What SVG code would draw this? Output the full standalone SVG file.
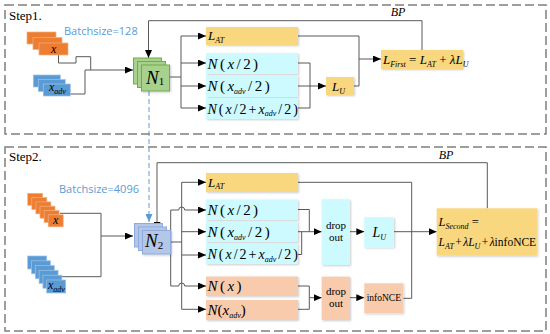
<svg xmlns="http://www.w3.org/2000/svg" width="550" height="334" viewBox="0 0 550 334">
<defs>
<style>
.frame{fill:none;stroke:#7f7f7f;stroke-width:1.5;stroke-dasharray:9 4}
.ln{fill:none;stroke:#595959;stroke-width:1}
.ar{marker-end:url(#ah)}
.yel{fill:#f9d77e}
.cy{fill:#ccfaff}
.or{fill:#f8cbad}
.inO{fill:#ed7d31;stroke:#f4b183;stroke-width:0.7}
.inB{fill:#5b9bd5;stroke:#9dc3e6;stroke-width:0.7}
.g{fill:#a9d18e;stroke:#70ad47;stroke-width:1}
.b2{fill:#b4c7e7;stroke:#8faadc;stroke-width:1}
.sh{filter:url(#ds)}
.m{font-family:"Liberation Serif","Times New Roman",serif;fill:#000}
.i{font-style:italic}
.sub{font-size:8px;font-style:italic}
.lbl{font-family:"Liberation Serif","Times New Roman",serif;font-size:13px;fill:#000}
.bs{font-family:"Open Sans","Liberation Sans",sans-serif;font-size:11px;fill:#5b9bd5}
.n{font-size:15px;word-spacing:-1.3px}
.nm{font-size:14px;word-spacing:-1.5px}
</style>
<marker id="ah" markerWidth="8" markerHeight="7" refX="8" refY="3.5" orient="auto" markerUnits="userSpaceOnUse"><path d="M0,0 L8,3.5 L0,7 z" fill="#000"/></marker>
<marker id="ahb" markerWidth="8" markerHeight="7" refX="8" refY="3.5" orient="auto" markerUnits="userSpaceOnUse"><path d="M0,0 L8,3.5 L0,7 z" fill="#5b9bd5"/></marker>
<filter id="ds" x="-10%" y="-10%" width="130%" height="140%"><feDropShadow dx="1" dy="1" stdDeviation="0.8" flood-color="#000" flood-opacity="0.2"/></filter>
</defs>
<rect width="550" height="334" fill="#fff"/>

<g id="step1-frame">
<rect class="frame" x="5" y="5" width="541" height="129"/>
<text class="lbl" x="9" y="20">Step1.</text>
<text class="bs" x="64" y="35">Batchsize=128</text>
</g>
<g id="step2-frame">
<rect class="frame" x="5" y="147" width="541" height="184"/>
<text class="lbl" x="9" y="161">Step2.</text>
<text class="bs" x="59" y="193">Batchsize=4096</text>
</g>

<g id="connectors">
<path class="ln" d="M58.5,55 V63 H76 V56.7 H90.7 V70"/>
<path class="ln" d="M70,94 H85 V70"/>
<path class="ln ar" d="M85,70 H133"/>
<path class="ln ar" d="M422,50 V20.7 H148.5 V58"/>
<path class="ln" d="M169,77 H181 M181,36 V108"/>
<path class="ln ar" d="M181,36 H206"/>
<path class="ln ar" d="M181,63 H206"/>
<path class="ln ar" d="M181,86 H206"/>
<path class="ln ar" d="M181,108 H206"/>
<path class="ln" d="M298,63 H310 V108 H298"/>
<path class="ln ar" d="M298,86 H326"/>
<path class="ln" d="M298,36 H359 V86 H354"/>
<path class="ln ar" d="M359,59 H381"/>
<path fill="none" stroke="#5b9bd5" stroke-width="1" stroke-dasharray="5 3" marker-end="url(#ahb)" d="M149,91 V222"/>
<path class="ln" d="M60,213.3 H101 V276.7 H60"/>
<path class="ln ar" d="M101,236 H133"/>
<path class="ln ar" d="M487.3,208.3 V162.7 H157 V230"/>
<path class="ln" d="M170.5,242 H181.7 M170.7,210 V286 M181.7,182.3 V309.3"/>
<path class="ln ar" d="M181.7,182.3 H206"/>
<path class="ln ar" d="M181.7,231.7 H206"/>
<path class="ln ar" d="M181.7,255 H206"/>
<path class="ln ar" d="M181.7,309.3 H206"/>
<path class="ln ar" d="M170.7,210 H178.7 A3,3 0 0 1 184.7,210 H206"/>
<path class="ln ar" d="M170.7,286 H178.7 A3,3 0 0 1 184.7,286 H206"/>
<path class="ln" d="M298,209.5 H309.3 V231.7 M298,254.5 H301.7 V231.7"/>
<path class="ln ar" d="M298,231.7 H321.7"/>
<path class="ln" d="M298,286 H309.3 V309.3 H298"/>
<path class="ln ar" d="M309.3,297.7 H321.7"/>
<path class="ln ar" d="M350,231.7 H364.3"/>
<path class="ln ar" d="M350,297.7 H364.3"/>
<path class="ln" d="M298,182.3 H411.7 V298.3 H403.3"/>
<path class="ln ar" d="M394,231.7 H436.7"/>
</g>

<g id="x1">
<rect class="inO" x="27" y="32" width="29" height="12"/>
<rect class="inO" x="33" y="37.5" width="29" height="12"/>
<rect class="inO" x="39" y="43" width="29" height="12"/>
<text class="m i" x="51" y="53" font-size="12">x</text>
</g>
<g id="xadv1">
<rect class="inB" x="33.3" y="75" width="27" height="12"/>
<rect class="inB" x="38.3" y="79.5" width="27" height="12"/>
<rect class="inB" x="43.3" y="84" width="27" height="12"/>
<text class="m i" x="49" y="91" font-size="12">x<tspan class="sub" dy="2.5">adv</tspan></text>
</g>
<g id="N1">
<rect class="g" x="133.5" y="58" width="28" height="26"/>
<rect class="g" x="137.5" y="61.5" width="28" height="26"/>
<rect class="g sh" x="141.5" y="65" width="28" height="26"/>
<text class="m" x="146" y="84" font-size="19"><tspan class="i">N</tspan><tspan font-size="11" dy="1">1</tspan></text>
</g>
<g id="LAT1">
<rect class="yel sh" x="206" y="27" width="92" height="18"/>
<text class="m i" x="208" y="40" font-size="13">L<tspan class="sub" dy="2.5">AT</tspan></text>
</g>
<g id="Nx1">
<rect class="cy sh" x="206" y="53" width="92" height="21"/>
<text class="m n" x="207.5" y="68.5"><tspan class="i">N</tspan> ( <tspan class="i">x</tspan> / 2 )</text>
</g>
<g id="Nxadv1">
<rect class="cy sh" x="206" y="75" width="92" height="22"/>
<text class="m n" x="207.5" y="91"><tspan class="i">N</tspan> ( <tspan class="i">x</tspan><tspan class="sub" dy="2.5">adv</tspan><tspan dy="-2.5"> / 2 )</tspan></text>
</g>
<g id="Nmix1">
<rect class="cy sh" x="206" y="98" width="92" height="21"/>
<text class="m nm" x="207.5" y="113.5"><tspan class="i">N</tspan> ( <tspan class="i">x</tspan> / 2 + <tspan class="i">x</tspan><tspan class="sub" dy="2.5">adv</tspan><tspan dy="-2.5"> / 2 )</tspan></text>
</g>
<g id="LU1">
<rect class="yel sh" x="326" y="77" width="28" height="18"/>
<text class="m i" x="332" y="91" font-size="13">L<tspan class="sub" dy="2.5">U</tspan></text>
</g>
<g id="LFirst">
<rect class="yel sh" x="381" y="50" width="82" height="19"/>
<text class="m" x="383" y="64" font-size="13"><tspan class="i">L</tspan><tspan class="sub" dy="2.5">First</tspan><tspan dy="-2.5"> = </tspan><tspan class="i">L</tspan><tspan class="sub" dy="2.5">AT</tspan><tspan dy="-2.5"> + </tspan><tspan class="i">λL</tspan><tspan class="sub" dy="2.5">U</tspan></text>
</g>
<text class="m i" x="398" y="16" font-size="12" text-anchor="middle">BP</text>

<g id="x2">
<rect class="inO" x="27.7" y="193.3" width="15" height="12"/>
<rect class="inO" x="31.8" y="197.6" width="15" height="12"/>
<rect class="inO" x="35.9" y="201.9" width="15" height="12"/>
<rect class="inO" x="40" y="206.2" width="15" height="12"/>
<rect class="inO" x="44.1" y="210.5" width="15" height="12"/>
<rect class="inO" x="48.2" y="214.8" width="15" height="12"/>
<text class="m i" x="53" y="224" font-size="12">x</text>
</g>
<g id="xadv2">
<rect class="inB" x="27.7" y="256" width="19" height="13"/>
<rect class="inB" x="31.5" y="260.8" width="19" height="13"/>
<rect class="inB" x="35.3" y="265.6" width="19" height="13"/>
<rect class="inB" x="39.1" y="270.4" width="19" height="13"/>
<rect class="inB" x="42.9" y="275.2" width="19" height="13"/>
<rect class="inB" x="46.7" y="280" width="19" height="13"/>
<text class="m i" x="48" y="289" font-size="12">x<tspan class="sub" dy="2.5">adv</tspan></text>
</g>
<g id="N2">
<rect class="b2" x="134.5" y="223.5" width="28" height="23.5"/>
<rect class="b2" x="138.5" y="227" width="28" height="23.5"/>
<rect class="b2 sh" x="142.5" y="230.5" width="28" height="23.5"/>
<text class="m" x="145" y="247" font-size="19"><tspan class="i">N</tspan><tspan font-size="11" dy="1.5">2</tspan></text>
</g>
<g id="LAT2">
<rect class="yel sh" x="206" y="173" width="92" height="19"/>
<text class="m i" x="208" y="186.5" font-size="13">L<tspan class="sub" dy="2.5">AT</tspan></text>
</g>
<g id="Nx2">
<rect class="cy sh" x="206" y="199.5" width="92" height="20.5"/>
<text class="m n" x="207.5" y="215"><tspan class="i">N</tspan> ( <tspan class="i">x</tspan> / 2 )</text>
</g>
<g id="Nxadv2">
<rect class="cy sh" x="206" y="221.5" width="92" height="20.5"/>
<text class="m n" x="207.5" y="237"><tspan class="i">N</tspan> ( <tspan class="i">x</tspan><tspan class="sub" dy="2.5">adv</tspan><tspan dy="-2.5"> / 2 )</tspan></text>
</g>
<g id="Nmix2">
<rect class="cy sh" x="206" y="243.5" width="92" height="20.5"/>
<text class="m nm" x="207.5" y="259"><tspan class="i">N</tspan> ( <tspan class="i">x</tspan> / 2 + <tspan class="i">x</tspan><tspan class="sub" dy="2.5">adv</tspan><tspan dy="-2.5"> / 2 )</tspan></text>
</g>
<g id="NxFull">
<rect class="or sh" x="206" y="276.5" width="92" height="19.5"/>
<text class="m n" x="207.5" y="291"><tspan class="i">N</tspan> ( <tspan class="i">x</tspan> )</text>
</g>
<g id="NxadvFull">
<rect class="or sh" x="206" y="300" width="92" height="20"/>
<text class="m" x="207.5" y="315" font-size="15"><tspan class="i">N</tspan>(<tspan class="i">x</tspan><tspan class="sub" dy="2.5">adv</tspan><tspan dy="-2.5">)</tspan></text>
</g>
<g id="drop1">
<rect class="cy sh" x="321.7" y="199.3" width="28.3" height="65.7"/>
<text class="m" x="336" y="229" font-size="11" text-anchor="middle">drop</text>
<text class="m" x="336" y="241" font-size="11" text-anchor="middle">out</text>
</g>
<g id="drop2">
<rect class="or sh" x="321.7" y="276.7" width="28.3" height="43.3"/>
<text class="m" x="336" y="295" font-size="11" text-anchor="middle">drop</text>
<text class="m" x="336" y="307" font-size="11" text-anchor="middle">out</text>
</g>
<g id="LU2">
<rect class="cy sh" x="364.3" y="217.3" width="29.7" height="30"/>
<text class="m i" x="372.5" y="237" font-size="14">L<tspan class="sub" dy="2.5">U</tspan></text>
</g>
<g id="infoNCE">
<rect class="or sh" x="364.3" y="283.3" width="39" height="30"/>
<text class="m" x="383.8" y="301" font-size="9.5" text-anchor="middle">infoNCE</text>
</g>
<g id="LSecond">
<rect class="yel sh" x="436.7" y="208.3" width="100.6" height="47.4"/>
<text class="m" x="438.5" y="226" font-size="12.5"><tspan class="i">L</tspan><tspan class="sub" dy="2.5">Second</tspan><tspan dy="-2.5"> =</tspan></text>
<text class="m" x="438.5" y="246" font-size="11.5" word-spacing="-1.5"><tspan class="i">L</tspan><tspan class="sub" dy="2.5">AT</tspan><tspan dy="-2.5"> + </tspan><tspan class="i">λL</tspan><tspan class="sub" dy="2.5">U</tspan><tspan dy="-2.5"> + </tspan><tspan class="i">λ</tspan>infoNCE</text>
</g>
<text class="m i" x="446" y="159" font-size="12" text-anchor="middle">BP</text>
</svg>
